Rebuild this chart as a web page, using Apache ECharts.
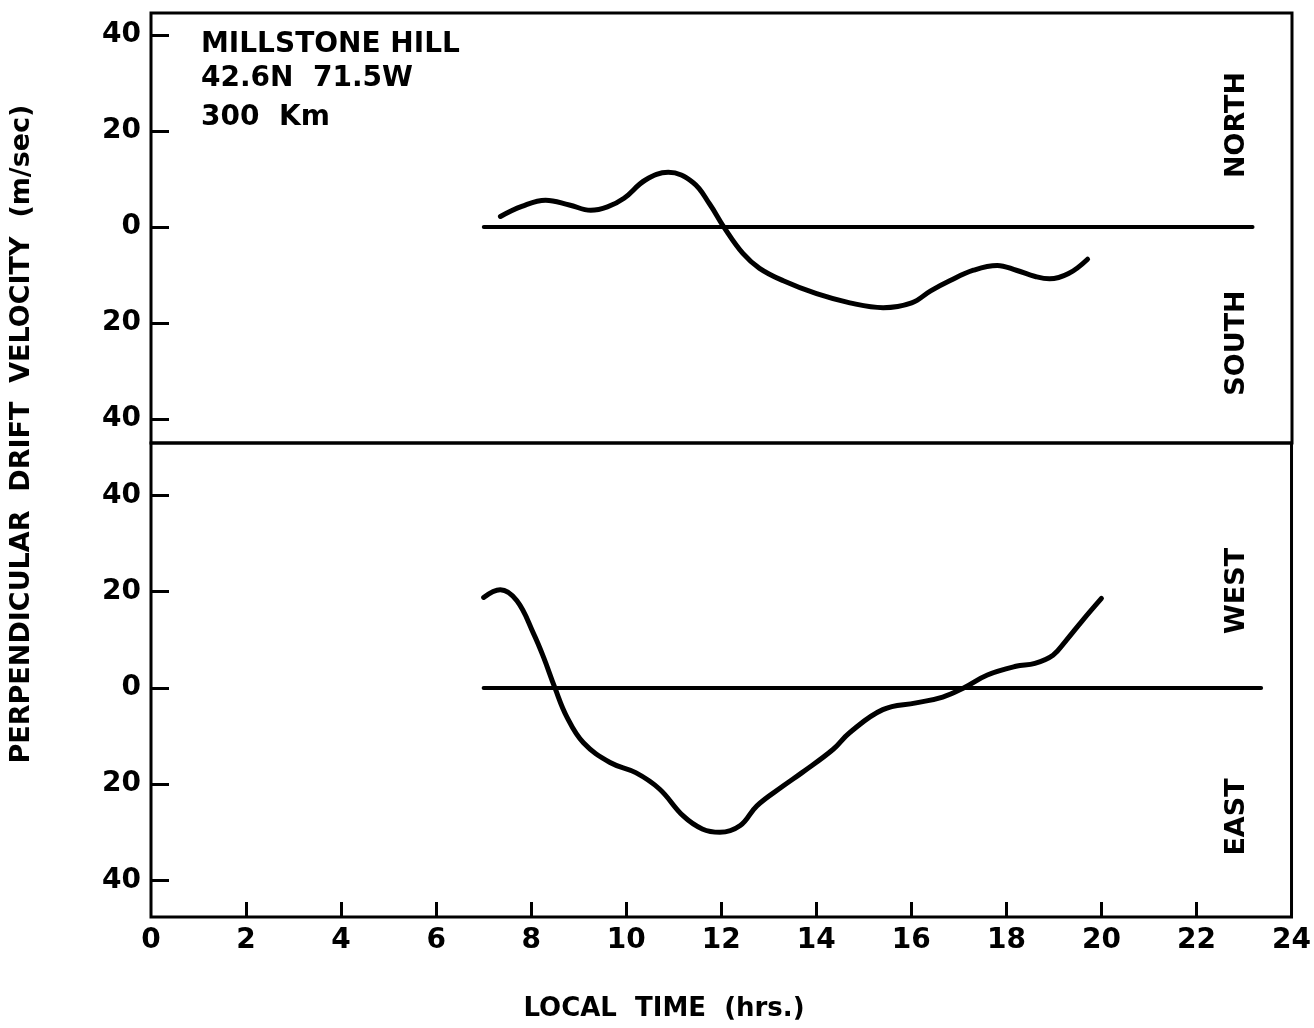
<!DOCTYPE html>
<html>
<head>
<meta charset="utf-8">
<script src="https://cdn.jsdelivr.net/npm/echarts@6/dist/echarts.min.js"></script>
<style>
html,body{margin:0;padding:0;background:#fff;}
#chart{width:1314px;height:1028px;}
</style>
</head>
<body>
<div id="chart"></div>
<script>
// ---- Data ----
// Top panel: north(+)/south(-) drift velocity vs local time
var nsTime = [7.35, 7.8, 8.3, 8.8, 9.25, 9.6, 9.95, 10.4, 10.88, 11.4, 11.75, 12.05, 12.45, 12.8, 13.3, 14.0, 14.7, 15.4, 16.0, 16.4, 16.8, 17.3, 17.8, 18.2, 18.6, 18.9, 19.3, 19.7];
var nsVel  = [2.2, 4.3, 5.6, 4.6, 3.5, 4.2, 6.0, 9.8, 11.4, 9.3, 4.8, 0, -5.5, -8.6, -11.2, -13.9, -15.8, -16.8, -15.8, -13.3, -11.2, -9.0, -8.0, -9.0, -10.3, -10.8, -9.7, -6.7];
// Bottom panel: west(+)/east(-) drift velocity vs local time
var weTime = [7.0, 7.35, 7.7, 8.05, 8.26, 8.5, 8.75, 9.1, 9.66, 10.2, 10.7, 11.2, 11.6, 11.97, 12.4, 12.75, 13.3, 13.7, 14.35, 14.7, 15.4, 16.1, 16.66, 17.1, 17.6, 18.2, 18.6, 18.98, 19.26, 19.6, 20.0];
var weVel  = [18.8, 20.4, 18.1, 11.3, 6.4, 0, -6, -11.4, -15.5, -17.6, -21, -26.6, -29.3, -30, -28.6, -24.5, -20.4, -17.6, -12.8, -9.3, -4.5, -3.1, -1.9, 0, 2.7, 4.5, 5.1, 6.8, 9.9, 14, 18.6];
// Zero reference lines (start/end time)
var nsZeroTime = [7.0, 23.17];
var weZeroTime = [7.0, 23.36];
// Tick values
var yTicks = [-40, -20, 0, 20, 40];
var xTickLabels = [0, 2, 4, 6, 8, 10, 12, 14, 16, 18, 20, 22, 24];
var xInnerTicks = [2, 4, 6, 8, 10, 12, 14, 16, 18, 20, 22];

function pairs(xs, ys) { return xs.map(function (x, i) { return [x, ys[i]]; }); }
function zeros(xs) { return xs.map(function (x) { return [x, 0]; }); }

var FONT = 'DejaVu Sans';
var chart = echarts.init(document.getElementById('chart'), null, {renderer: 'canvas'});

function yAxisCfg(gridIndex, min, max) {
  return {
    type: 'value', gridIndex: gridIndex, min: min, max: max,
    splitLine: {show: false},
    axisLine: {show: false, onZero: false},
    axisTick: {show: true, inside: true, length: 18, lineStyle: {color: '#000', width: 3}, customValues: yTicks},
    axisLabel: {show: true, customValues: yTicks, margin: 10, color: '#000', fontFamily: FONT, fontWeight: 'bold', fontSize: 28,
      formatter: function (v) { return String(Math.abs(v)); }}
  };
}

var option = {
  backgroundColor: '#fff',
  animation: false,
  grid: [
    {left: 151, width: 1141, top: 13, height: 430, show: true, borderColor: '#000', borderWidth: 3, backgroundColor: 'transparent'},
    {left: 151, width: 1141, top: 443, height: 474, show: true, borderColor: '#000', borderWidth: 3, backgroundColor: 'transparent'}
  ],
  xAxis: [
    {type: 'value', gridIndex: 0, min: 0, max: 24, interval: 2, axisLine: {show: false, onZero: false}, axisTick: {show: false}, axisLabel: {show: false}, splitLine: {show: false}},
    {type: 'value', gridIndex: 1, min: 0, max: 24, interval: 2, position: 'bottom',
      axisLine: {show: false, onZero: false}, splitLine: {show: false},
      axisTick: {show: true, inside: true, length: 15, lineStyle: {color: '#000', width: 3}, customValues: xInnerTicks},
      axisLabel: {show: true, customValues: xTickLabels, margin: 10, color: '#000', fontFamily: FONT, fontWeight: 'bold', fontSize: 28}}
  ],
  yAxis: [
    yAxisCfg(0, -45, 44.6),
    yAxisCfg(1, -47.6, 50.9)
  ],
  series: [
    {type: 'line', xAxisIndex: 0, yAxisIndex: 0, data: zeros(nsZeroTime), symbol: 'none', lineStyle: {color: '#000', width: 4, cap: 'round'}},
    {type: 'line', xAxisIndex: 0, yAxisIndex: 0, data: pairs(nsTime, nsVel), smooth: 0.4, symbol: 'none', lineStyle: {color: '#000', width: 5, cap: 'round'}},
    {type: 'line', xAxisIndex: 1, yAxisIndex: 1, data: zeros(weZeroTime), symbol: 'none', lineStyle: {color: '#000', width: 4, cap: 'round'}},
    {type: 'line', xAxisIndex: 1, yAxisIndex: 1, data: pairs(weTime, weVel), smooth: 0.4, symbol: 'none', lineStyle: {color: '#000', width: 5, cap: 'round'}}
  ],
  graphic: [
    {type: 'text', x: 201, y: 45, style: {text: 'MILLSTONE HILL', fill: '#000', font: 'bold 28px "DejaVu Sans"', verticalAlign: 'middle', align: 'left'}},
    {type: 'text', x: 201, y: 79, style: {text: '42.6N  71.5W', fill: '#000', font: 'bold 28px "DejaVu Sans"', verticalAlign: 'middle', align: 'left'}},
    {type: 'text', x: 201, y: 118, style: {text: '300  Km', fill: '#000', font: 'bold 28px "DejaVu Sans"', verticalAlign: 'middle', align: 'left'}},
    {type: 'text', x: 1237, y: 125, rotation: Math.PI / 2, style: {text: 'NORTH', fill: '#000', font: 'bold 27px "DejaVu Sans"', verticalAlign: 'middle', align: 'center'}},
    {type: 'text', x: 1237, y: 343, rotation: Math.PI / 2, style: {text: 'SOUTH', fill: '#000', font: 'bold 27px "DejaVu Sans"', verticalAlign: 'middle', align: 'center'}},
    {type: 'text', x: 1237, y: 591, rotation: Math.PI / 2, style: {text: 'WEST', fill: '#000', font: 'bold 27px "DejaVu Sans"', verticalAlign: 'middle', align: 'center'}},
    {type: 'text', x: 1237, y: 817, rotation: Math.PI / 2, style: {text: 'EAST', fill: '#000', font: 'bold 27px "DejaVu Sans"', verticalAlign: 'middle', align: 'center'}},
    {type: 'text', x: 22, y: 434, rotation: Math.PI / 2, style: {text: 'PERPENDICULAR  DRIFT  VELOCITY  (m/sec)', fill: '#000', font: 'bold 27px "DejaVu Sans"', verticalAlign: 'middle', align: 'center'}},
    {type: 'text', x: 664, y: 1009, style: {text: 'LOCAL  TIME  (hrs.)', fill: '#000', font: 'bold 26px "DejaVu Sans"', verticalAlign: 'middle', align: 'center'}}
  ]
};
chart.setOption(option);
</script>
</body>
</html>
